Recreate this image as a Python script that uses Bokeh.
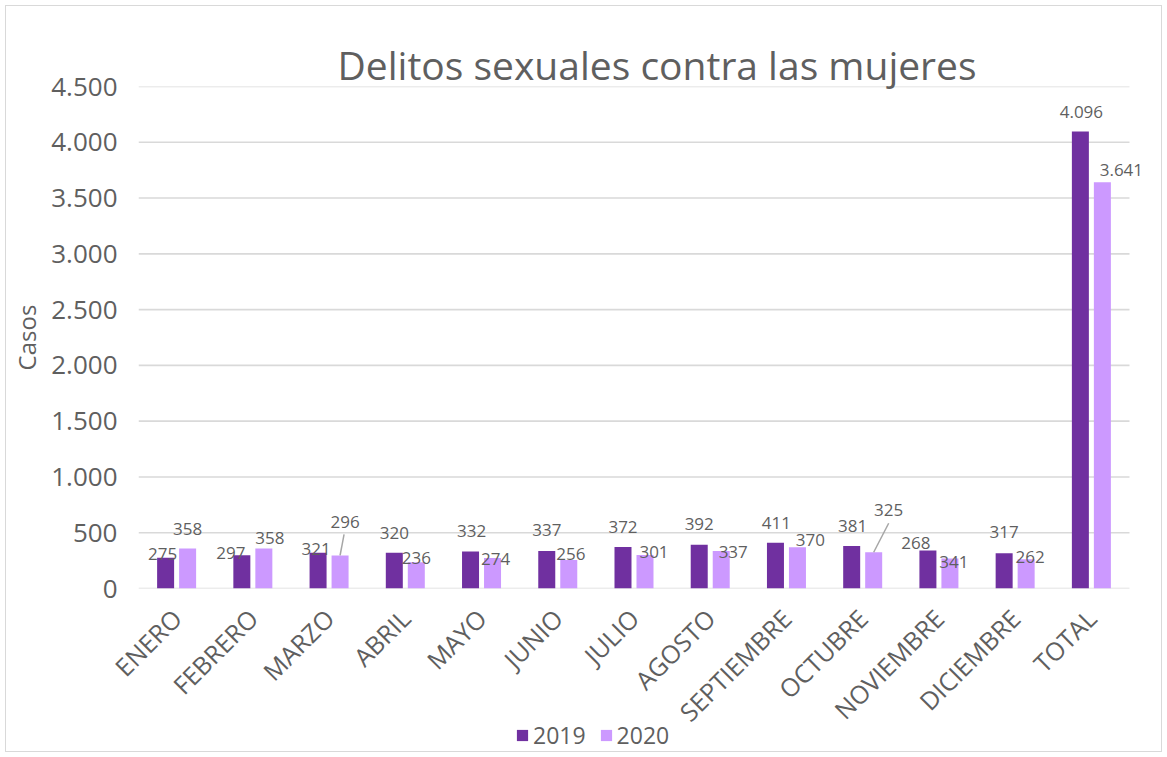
import numpy as np
from bokeh.plotting import figure
from bokeh.layouts import column
from bokeh.models import ColumnDataSource, Range1d, FixedTicker, Legend, LegendItem
from bokeh.core.properties import value
from bokeh.embed import file_html
from bokeh.resources import INLINE

# ---------------- data ----------------
meses = ["ENERO", "FEBRERO", "MARZO", "ABRIL", "MAYO", "JUNIO", "JULIO",
         "AGOSTO", "SEPTIEMBRE", "OCTUBRE", "NOVIEMBRE", "DICIEMBRE", "TOTAL"]
casos_2019 = [275, 297, 321, 320, 332, 337, 372, 392, 411, 381, 341, 317, 4096]
casos_2020 = [358, 358, 296, 236, 274, 256, 301, 337, 370, 325, 268, 262, 3641]
etiquetas_2019 = ["275", "297", "321", "320", "332", "337", "372", "392", "411",
                  "381", "268", "317", "4.096"]
etiquetas_2020 = ["358", "358", "296", "236", "274", "256", "301", "337", "370",
                  "325", "341", "262", "3.641"]
y_ticks = [0, 500, 1000, 1500, 2000, 2500, 3000, 3500, 4000, 4500]
y_tick_labels = ["0", "500", "1.000", "1.500", "2.000", "2.500", "3.000",
                 "3.500", "4.000", "4.500"]
series = ["2019", "2020"]

# ---------------- layout / style ----------------
FONT = "Open Sans"
GREY = "#5f5f5f"
C19 = "#7030A0"
C20 = "#CC99FF"
W, H = 1155, 745
BL, BR, BT = 132, 13, 80
FH = 502
BB = H - BT - FH
FW = W - BL - BR
CW = 76.23                 # pixels per category
N = len(meses)
x_end = -0.5 + FW / CW
px_y = FH / 4500.0         # pixels per unit
OFF = 11 / CW              # bar offset from category centre
BW = 17 / CW               # bar width

# label placement (pixels relative to bar top centre)
dx19 = [-3, -11, -2, 0, 1, 0, 0, 0, 1, 1, -12, 0, 1]
dy19 = [4, 2, 4, 20, 20, 21, 20, 21, 20, 20, 7, 21, 20]
dx20 = [0, 6, 5, 0, 3, 2, 9, 12, 13, 15, 4, 4, 19]
dy20 = [20, 11, 33, 4, -1, 6, 3, -1, 7, 42, -3, 2, 12]
leader_idx = [2, 9]
leader_dx = [4, 15]
leader_dy = [21, 29]

idx = np.arange(N)

p = figure(width=W, height=H, output_backend="svg", toolbar_location=None,
           x_range=Range1d(-0.5, x_end), y_range=Range1d(0, 4500),
           min_border_left=BL, min_border_right=BR,
           min_border_top=BT, min_border_bottom=BB)
p.outline_line_color = None
p.background_fill_color = "white"
p.border_fill_color = "white"

# title
p.title.text = "Delitos sexuales contra las mujeres"
p.title.align = "left"
p.title.offset = 337 - 6 - BL
p.title.text_font = FONT
p.title.text_font_size = "39px"
p.title.text_font_style = "normal"
p.title.text_color = GREY
p.title.standoff = -8

# grid (drawn across the category span only)
p.xgrid.visible = False
p.ygrid.visible = False
p.segment(x0=[-0.5] * len(y_ticks), x1=[N - 0.5] * len(y_ticks),
          y0=y_ticks, y1=y_ticks, line_color="#d9d9d9", line_width=1.6)

# y axis
ya = p.yaxis[0]
ya.ticker = FixedTicker(ticks=y_ticks)
ya.major_label_overrides = {t: l for t, l in zip(y_ticks, y_tick_labels)}
ya.axis_line_color = None
ya.major_tick_line_color = None
ya.minor_tick_line_color = None
ya.major_tick_out = 0
ya.major_tick_in = 0
ya.minor_tick_out = 0
ya.major_label_text_font = FONT
ya.major_label_text_font_size = "26px"
ya.major_label_text_color = GREY
ya.major_label_standoff = 21
ya.axis_label = "Casos"
ya.axis_label_text_font = FONT
ya.axis_label_text_font_size = "24px"
ya.axis_label_text_font_style = "normal"
ya.axis_label_text_color = GREY
ya.axis_label_standoff = 5

# x axis
xa = p.xaxis[0]
xa.ticker = FixedTicker(ticks=list(idx))
xa.major_label_overrides = {int(i): m for i, m in zip(idx, meses)}
xa.major_label_orientation = np.pi / 4
xa.axis_line_color = None
xa.major_tick_line_color = None
xa.minor_tick_line_color = None
xa.major_tick_out = 0
xa.major_tick_in = 0
xa.minor_tick_out = 0
xa.major_label_text_font = FONT
xa.major_label_text_font_size = "25px"
xa.major_label_text_color = GREY
xa.major_label_standoff = 25

# bars
src19 = ColumnDataSource(dict(x=idx - OFF, top=casos_2019, lab=etiquetas_2019,
                              dx=dx19, dy=[-d for d in dy19]))
src20 = ColumnDataSource(dict(x=idx + OFF, top=casos_2020, lab=etiquetas_2020,
                              dx=dx20, dy=[-d for d in dy20]))
r19 = p.vbar(x="x", top="top", width=BW, source=src19, fill_color=C19, line_color=None)
r20 = p.vbar(x="x", top="top", width=BW, source=src20, fill_color=C20, line_color=None)

# data labels
for src in (src19, src20):
    p.text(x="x", y="top", text="lab", source=src, x_offset="dx", y_offset="dy",
           text_align="center", text_baseline="middle",
           text_font=value(FONT), text_font_size="17px", text_color=GREY)

# leader lines
lx0 = [i + OFF + dx / CW for i, dx in zip(leader_idx, leader_dx)]
ly0 = [casos_2020[i] + dy / px_y for i, dy in zip(leader_idx, leader_dy)]
lx1 = [i + OFF for i in leader_idx]
ly1 = [casos_2020[i] for i in leader_idx]
p.segment(x0=lx0, y0=ly0, x1=lx1, y1=ly1, line_color="#a6a6a6", line_width=1.5)

# transparent legend strip laid over the bottom of the chart
# (its copy of the bars sits below its view; only the key shows)
LH = 32
q = figure(width=W, height=LH, output_backend="svg", toolbar_location=None,
           x_range=Range1d(-0.5, x_end), y_range=Range1d(10000, 20000),
           min_border=0, x_axis_type=None, y_axis_type=None)
q.outline_line_color = None
q.xgrid.visible = False
q.ygrid.visible = False
q.background_fill_alpha = 0
q.border_fill_alpha = 0
g19 = q.vbar(x="x", top="top", width=BW, source=src19, fill_color=C19, line_color=None)
g20 = q.vbar(x="x", top="top", width=BW, source=src20, fill_color=C20, line_color=None)
legend = Legend(items=[LegendItem(label=series[0], renderers=[g19]),
                       LegendItem(label=series[1], renderers=[g20])],
                orientation="horizontal", location=(377, 0),
                glyph_width=14, glyph_height=14, label_standoff=4, spacing=13,
                padding=0, margin=0, border_line_color=None,
                background_fill_alpha=0,
                label_text_font=FONT, label_text_font_size="23px",
                label_text_color=GREY)
q.add_layout(legend, "center")
q.styles = {"margin-top": "-%dpx" % LH}

lay = column(p, q, spacing=0)
lay.styles = {"border": "1px solid #d9d9d9", "margin": "5px 0 0 5px"}

open("out.html", "w").write(file_html(lay, INLINE))
